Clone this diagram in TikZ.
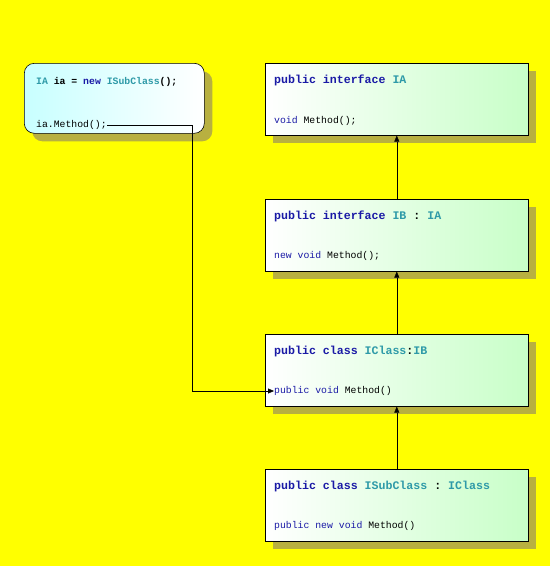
\documentclass[tikz,border=0pt]{standalone}
\usepackage{fontspec}
\setmonofont{Liberation Mono}
\usetikzlibrary{positioning, calc, arrows.meta, shadows}
\definecolor{Bg}{HTML}{FFFF00}
\definecolor{Shade}{HTML}{B8B040}
\definecolor{Mint}{HTML}{C8FFC8}
\definecolor{Ice}{HTML}{C8FFFF}
\definecolor{Kw}{HTML}{1A1AA6}
\definecolor{Ty}{HTML}{2E9AA8}
\tikzset{
    classbox/.style={rectangle, draw=black, semithick, left color=white, right color=Mint, minimum width=263pt, minimum height=72pt, anchor=north west, drop shadow={shadow xshift=8pt, shadow yshift=-8pt, fill=Shade, opacity=1}},
    callbox/.style={rectangle, rounded corners=10pt, draw=black, semithick, left color=Ice, right color=white, minimum width=180pt, minimum height=70pt, anchor=north west, drop shadow={shadow xshift=8pt, shadow yshift=-8pt, fill=Shade, opacity=1}},
    headline/.style={anchor=west, inner sep=0pt, font=\ttfamily\bfseries\fontsize{11.6}{12}\selectfont},
    bodyline/.style={anchor=west, inner sep=0pt, font=\ttfamily\fontsize{9.8}{12}\selectfont},
    calline/.style={anchor=west, inner sep=0pt, font=\ttfamily\fontsize{9.8}{12}\selectfont},
    arrow/.style={-{Triangle[length=6pt, width=5pt]}, thin, color=black},
}
\newcommand{\kw}[1]{\textcolor{Kw}{#1}}
\newcommand{\ty}[1]{\textcolor{Ty}{#1}}
\begin{document}
\begin{tikzpicture}[x=1pt, y=-1pt]
    \fill[Bg] (0,0) rectangle (550,566);
    \useasboundingbox (0,0) rectangle (550,566);

    % caller
    \node[callbox] (caller) at (24,63) {};
    \node[calline, font=\ttfamily\bfseries\fontsize{9.8}{12}\selectfont] (decl) at ([shift={(12,19)}]caller.north west) {\ty{IA} ia = \kw{new} \ty{ISubClass}();};
    \node[calline] (call) at ([shift={(12,62)}]caller.north west) {ia.Method();};

    % interfaces and classes
    \node[classbox] (ia) at (265,63) {};
    \node[headline] (iahead) at ([shift={(9,17)}]ia.north west) {\kw{public interface} \ty{IA}};
    \node[bodyline] (iabody) at ([shift={(9,58)}]ia.north west) {\kw{void} Method();};

    \node[classbox] (ib) at (265,199) {};
    \node[headline] (ibhead) at ([shift={(9,17)}]ib.north west) {\kw{public interface} \ty{IB} : \ty{IA}};
    \node[bodyline] (ibbody) at ([shift={(9,57)}]ib.north west) {\kw{new void} Method();};

    \node[classbox] (ic) at (265,334) {};
    \node[headline] (ichead) at ([shift={(9,17)}]ic.north west) {\kw{public class} \ty{IClass}:\ty{IB}};
    \node[bodyline] (icbody) at ([shift={(9,57)}]ic.north west) {\kw{public void} Method()};

    \node[classbox] (isc) at (265,469) {};
    \node[headline] (ischead) at ([shift={(9,17)}]isc.north west) {\kw{public class} \ty{ISubClass} : \ty{IClass}};
    \node[bodyline] (iscbody) at ([shift={(9,57)}]isc.north west) {\kw{public new void} Method()};

    % inheritance
    \draw[arrow] (ib.north) -- (ia.south);
    \draw[arrow] (ic.north) -- (ib.south);
    \draw[arrow] (isc.north) -- (ic.south);

    % call path
    \coordinate (bend) at (192,0);
    \draw[arrow] (call.east) -| (bend |- icbody.west) -- (icbody.west);
\end{tikzpicture}
\end{document}
